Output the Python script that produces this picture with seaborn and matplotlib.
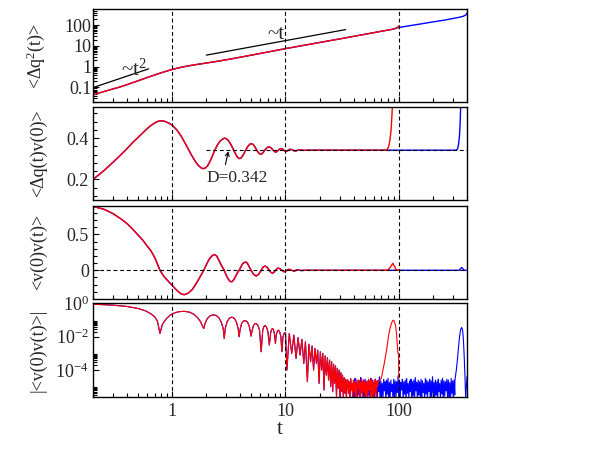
import numpy as np
import matplotlib
matplotlib.use("Agg")
import matplotlib.pyplot as plt
import seaborn as sns
from matplotlib.ticker import FixedLocator, FixedFormatter, NullFormatter

# ---------------- data ----------------
# panel 1 : <dq^2(t)>
msd_early = [(0.2, 0.044), (0.25, 0.064), (0.3, 0.085), (0.35, 0.108), (0.4, 0.138),
             (0.5, 0.21), (0.6, 0.3), (0.7, 0.4), (0.8, 0.51), (0.9, 0.62), (1.0, 0.74),
             (1.2, 0.94), (1.5, 1.18), (2.0, 1.5), (2.6, 1.88), (3.5, 2.5), (5.0, 3.6),
             (7.0, 5.1), (10.0, 7.4), (15.0, 11.0), (20.0, 14.6), (30.0, 21.6),
             (50.0, 36.0), (70.0, 50.5), (85.0, 61.0)]
msd_red_tail = [(90, 66), (95, 72), (98, 80), (100, 90)]
msd_blue_tail = [(90, 64.5), (100, 77), (150, 110), (200, 142), (250, 172), (300, 207),
                 (340, 237), (370, 265), (390, 305), (400, 380)]
guide_t2_t = [0.2, 0.62]
guide_t2_y = [0.099, 0.79]
guide_t1_t = [2.0, 34.0]
guide_t1_y = [3.6, 61.0]

# panel 2 : <dq(t)v(0)>
d_early = [(0.2, 0.2), (0.25, 0.243), (0.3, 0.283), (0.35, 0.318), (0.4, 0.35), (0.45, 0.38),
           (0.5, 0.404), (0.55, 0.426), (0.6, 0.446), (0.65, 0.462), (0.7, 0.474), (0.75, 0.482),
           (0.8, 0.485), (0.86, 0.482), (0.93, 0.474), (1.0, 0.463), (1.1, 0.44), (1.2, 0.41),
           (1.3, 0.376), (1.4, 0.343), (1.5, 0.313), (1.6, 0.287), (1.7, 0.268), (1.8, 0.256),
           (1.88, 0.252), (1.97, 0.256), (2.06, 0.267), (2.2, 0.298), (2.35, 0.336), (2.5, 0.366),
           (2.65, 0.386), (2.8, 0.397), (2.9, 0.4), (3.0, 0.398), (3.15, 0.387), (3.3, 0.369),
           (3.45, 0.348), (3.6, 0.327), (3.75, 0.309), (3.9, 0.301), (4.05, 0.304), (4.25, 0.32),
           (4.45, 0.342), (4.65, 0.36), (4.85, 0.371), (5.0, 0.374), (5.2, 0.369), (5.4, 0.356),
           (5.65, 0.337), (5.85, 0.326), (6.1, 0.322), (6.35, 0.33), (6.6, 0.344), (6.9, 0.355),
           (7.2, 0.358), (7.5, 0.352), (7.8, 0.341), (8.15, 0.332), (8.45, 0.336), (8.75, 0.345),
           (9.1, 0.35), (9.4, 0.348), (9.75, 0.34), (10.1, 0.336), (10.5, 0.34), (10.9, 0.346),
           (11.4, 0.345), (11.9, 0.339), (12.4, 0.338), (13.0, 0.344), (13.6, 0.343),
           (14.5, 0.341), (16.0, 0.342), (40.0, 0.342), (76.0, 0.342)]
d_red_tail = [(79, 0.345), (81.5, 0.36), (83.5, 0.39), (85.5, 0.44), (87, 0.51), (88.5, 0.6)]
d_blue_tail = [(100, 0.342), (322, 0.342), (330, 0.348), (337, 0.37), (343, 0.41),
               (348, 0.47), (352, 0.56)]
D_value = 0.342

# panel 3 : <v(0)v(t)>
c_early = [(0.2, 0.89), (0.25, 0.85), (0.3, 0.79), (0.35, 0.72), (0.4, 0.65), (0.45, 0.57),
           (0.5, 0.49), (0.55, 0.42), (0.6, 0.34), (0.65, 0.27), (0.7, 0.18), (0.74, 0.09),
           (0.78, 0.0), (0.85, -0.09), (0.92, -0.15), (1.0, -0.21), (1.1, -0.28), (1.2, -0.33),
           (1.28, -0.34), (1.38, -0.32), (1.5, -0.27), (1.62, -0.19), (1.75, -0.1), (1.9, 0.0),
           (2.02, 0.09), (2.13, 0.16), (2.24, 0.2), (2.35, 0.22), (2.47, 0.2), (2.6, 0.13),
           (2.74, 0.06), (2.88, 0.0), (3.0, -0.07), (3.12, -0.12), (3.24, -0.155), (3.37, -0.16),
           (3.5, -0.13), (3.64, -0.08), (3.78, -0.03), (3.9, 0.0), (4.05, 0.05), (4.2, 0.095),
           (4.35, 0.11), (4.45, 0.115), (4.6, 0.1), (4.78, 0.05), (4.97, 0.0), (5.22, -0.055),
           (5.5, -0.08), (5.8, -0.055), (6.1, 0.0), (6.35, 0.045), (6.6, 0.06), (6.9, 0.04),
           (7.2, 0.0), (7.45, -0.03), (7.7, -0.04), (7.95, -0.025), (8.15, 0.0), (8.45, 0.025),
           (8.7, 0.03), (9.0, 0.018), (9.3, 0.0), (9.55, -0.015), (9.8, -0.02), (10.05, -0.01),
           (10.3, 0.0), (10.8, 0.015), (11.35, 0.0), (11.85, -0.012), (12.4, 0.0), (12.9, 0.008),
           (13.45, 0.0), (13.95, -0.004), (14.5, 0.0), (20.0, 0.0), (40.0, 0.0), (76.0, 0.0)]
c_red_tail = [(80, 0.005), (84, 0.04), (88.5, 0.097), (92, 0.05), (95, 0.01), (98, 0.0), (100, 0.0)]
c_blue_tail = [(100, 0.0), (340, 0.0), (350, 0.018), (359, 0.038), (368, 0.02), (380, 0.0), (400, 0.0)]

# panel 4 : |<v(0)v(t)>| given as log10 values
logc_early = [(0.2, -0.04), (0.3, -0.1), (0.4, -0.18), (0.5, -0.3), (0.58, -0.44), (0.65, -0.62),
              (0.7, -0.8), (0.74, -1.05), (0.78, -1.8), (0.82, -1.25), (0.88, -0.95), (0.95, -0.72),
              (1.05, -0.56), (1.15, -0.49), (1.28, -0.47), (1.42, -0.52), (1.55, -0.64), (1.68, -0.86),
              (1.78, -1.1), (1.85, -1.35), (1.9, -1.5), (1.95, -1.2), (2.03, -0.93), (2.15, -0.75),
              (2.3, -0.68), (2.45, -0.72), (2.6, -0.88), (2.72, -1.15), (2.82, -1.5), (2.88, -2.1),
              (2.94, -1.5), (3.05, -1.1), (3.2, -0.88), (3.37, -0.82), (3.55, -0.9), (3.7, -1.15),
              (3.82, -1.5), (3.9, -2.0), (3.98, -1.55), (4.1, -1.2), (4.25, -1.06), (4.45, -1.03),
              (4.62, -1.12), (4.78, -1.35), (4.9, -1.7), (4.97, -1.96), (5.05, -1.7), (5.2, -1.35),
              (5.35, -1.22), (5.5, -1.2), (5.7, -1.3), (5.9, -1.6), (6.1, -2.9), (6.3, -1.6),
              (6.45, -1.38), (6.6, -1.32), (6.8, -1.42), (7.0, -1.7), (7.2, -2.5), (7.4, -1.75),
              (7.55, -1.55), (7.7, -1.5), (7.85, -1.6), (8.0, -1.85), (8.15, -2.4), (8.3, -1.85),
              (8.5, -1.65), (8.7, -1.6), (8.9, -1.72), (9.1, -2.0), (9.3, -2.9), (9.5, -2.0),
              (9.75, -1.78), (10.0, -1.76)]
logc_osc = [(10.3, -4.0), (10.8, -1.8), (11.35, -3.0), (11.85, -1.9), (12.4, -3.3), (12.9, -2.05),
            (13.45, -3.1), (13.95, -2.15), (14.5, -3.6), (15.0, -2.3), (15.6, -4.7), (16.1, -2.45),
            (16.65, -3.5), (17.15, -2.55), (17.7, -4.0), (18.2, -2.7), (18.75, -3.6), (19.25, -2.8),
            (19.8, -4.8), (20.3, -2.9), (20.85, -4.0), (21.35, -3.0), (21.9, -5.2), (22.4, -3.15),
            (22.95, -4.3), (23.45, -3.25), (24.0, -4.6), (24.5, -3.4), (25.05, -5.0), (25.55, -3.5),
            (26.1, -5.3), (26.6, -3.65), (27.15, -4.8), (27.65, -3.75), (28.2, -5.6), (28.7, -3.9),
            (29.25, -5.1), (29.75, -4.0), (30.3, -5.7), (30.8, -4.15), (31.35, -5.3), (31.85, -4.3),
            (32.4, -5.7), (32.9, -4.45), (33.45, -5.4), (33.95, -4.55), (34.5, -5.7), (35.0, -4.6)]
red_noise_hi = [-4.6, -4.7, -4.5, -4.8, -4.6, -4.7, -4.55, -4.8, -4.6, -4.7, -4.5,
                -4.65, -4.75, -4.6, -4.7, -4.55, -4.65, -4.5, -4.7, -4.6, -4.55, -4.65]
red_noise_lo = [-5.4, -5.8, -5.2, -5.9, -5.3, -5.6, -5.9, -5.1, -5.7, -5.4, -5.9,
                -5.3, -5.8, -5.5, -5.9, -5.2, -5.7, -5.6, -5.9, -5.4, -5.8, -5.0]
red_noise_span = (35.5, 65.0)
blue_noise_hi = [-4.6, -4.7, -4.55, -4.8, -4.65, -4.5, -4.75, -4.6, -4.7, -4.45,
                 -4.8, -4.6, -4.55, -4.7, -4.65, -4.9, -4.5, -4.6, -4.75, -4.55,
                 -4.7, -4.6, -4.4, -4.65, -4.8, -4.55, -4.7, -4.6, -4.5, -4.75,
                 -4.6, -4.85, -4.55, -4.65, -4.7, -4.35, -4.6, -4.75, -4.55, -4.7,
                 -4.6, -4.5, -4.8, -4.65, -4.55, -4.7, -4.6, -4.45, -4.75, -4.6,
                 -4.7, -4.55, -4.65, -4.8, -4.5, -4.6, -4.7, -4.55, -4.65, -4.4,
                 -4.75, -4.6, -4.7, -4.55, -4.8, -4.6, -4.5, -4.65, -4.7, -4.55,
                 -4.6, -4.75, -4.5, -4.65, -4.6]
blue_noise_lo = [-5.4, -5.9, -5.2, -5.7, -6.0, -5.3, -5.8, -5.5, -6.0, -5.25,
                 -5.6, -5.9, -5.35, -5.75, -5.5, -6.0, -5.2, -5.65, -5.9, -5.4,
                 -5.8, -5.3, -6.0, -5.55, -5.7, -5.25, -5.95, -5.45, -5.8, -5.6,
                 -5.3, -6.0, -5.5, -5.7, -5.35, -5.9, -5.6, -5.2, -5.85, -5.45,
                 -6.0, -5.4, -5.7, -5.3, -5.95, -5.55, -5.75, -5.25, -5.9, -5.5,
                 -5.65, -6.0, -5.35, -5.8, -5.45, -5.7, -5.3, -5.95, -5.6, -5.4,
                 -5.85, -5.5, -6.0, -5.3, -5.7, -5.45, -5.9, -5.55, -5.25, -5.8,
                 -5.6, -6.0, -5.4, -5.75, -5.5]
blue_noise_span = (35.5, 312.0)
logc_red_tail = [(66, -4.7), (70, -4.5), (74, -3.7), (78, -2.8), (81, -2.0), (83, -1.6), (86, -1.2),
                 (88.8, -1.0), (91, -1.05), (93.5, -1.3), (95.5, -1.8), (97, -2.5), (98.5, -3.0),
                 (99.5, -3.0), (100, -4.5)]
logc_blue_tail = [(313, -4.6), (322, -4.0), (330, -3.3), (338, -2.5), (345, -1.9), (352, -1.55),
                  (359, -1.44), (366, -1.6), (372, -2.2), (378, -3.2), (384, -4.4), (389, -5.7),
                  (395, -5.0), (400, -4.4)]

RED = "#ff0000"
BLUE = "#0000ff"

# ---------------- style ----------------
sns.set_style("ticks")
plt.rcParams.update({
    "font.family": ["Liberation Serif", "DejaVu Serif"],
    "mathtext.fontset": "custom",
    "mathtext.rm": "Liberation Serif",
    "mathtext.it": "Liberation Serif:italic",
    "mathtext.bf": "Liberation Serif:bold",
    "axes.unicode_minus": True,
    "axes.linewidth": 1.0,
    "axes.edgecolor": "black",
})


def split(pairs):
    t, v = zip(*pairs)
    return np.array(t, float), np.array(v, float)


def draw(ax, pairs, color, lw=1.0, z=2):
    t, v = split(pairs)
    sns.lineplot(x=t, y=v, ax=ax, color=color, lw=lw, estimator=None, sort=False, zorder=z)


def interleave(hi, lo):
    return np.column_stack([hi, lo]).ravel()


fig = plt.figure(figsize=(6.05, 4.68), dpi=100)
L, W = 93 / 605, 374 / 605
rects = [(L, 0.7810, W, 0.1991), (L, 0.5726, W, 0.1981),
         (L, 0.3611, W, 0.1994), (L, 0.1517, W, 0.1998)]
axes = [fig.add_axes(r) for r in rects]
ax1, ax2, ax3, ax4 = axes

# panel 1
draw(ax1, msd_early + msd_blue_tail, BLUE)
draw(ax1, msd_early + msd_red_tail, RED)
sns.lineplot(x=guide_t2_t, y=guide_t2_y, ax=ax1, color="black", lw=0.9, estimator=None)
sns.lineplot(x=guide_t1_t, y=guide_t1_y, ax=ax1, color="black", lw=0.9, estimator=None)
ax1.set_yscale("log")
ax1.set_ylim(0.019, 575)
ax1.text(0.46, 0.66, "~t$^2$", fontsize=15, ha="center", va="center")
ax1.text(8.3, 36.0, "~t", fontsize=15, ha="center", va="center")

# panel 2
draw(ax2, d_early + d_blue_tail, BLUE)
draw(ax2, d_early + d_red_tail, RED)
ax2.hlines(D_value, 2.0, 400, colors="black", lw=0.8, linestyles=(0, (3.5, 2.5)), zorder=3)
ax2.set_ylim(0.1, 0.55)
ax2.annotate("", xy=(3.13, 0.337), xytext=(2.95, 0.272),
             arrowprops=dict(arrowstyle="->", lw=0.8, color="black", shrinkA=0, shrinkB=0,
                             mutation_scale=7))
ax2.text(3.72, 0.207, "D=0.342", fontsize=12.5, ha="center", va="center")

# panel 3
draw(ax3, c_early + c_blue_tail, BLUE)
draw(ax3, c_early + c_red_tail, RED)
ax3.axhline(0.0, color="black", lw=0.8, ls=(0, (3.5, 2.5)), zorder=3)
ax3.set_ylim(-0.4, 0.9)

# panel 4
tb = np.geomspace(*blue_noise_span, 2 * len(blue_noise_hi))
tr = np.geomspace(*red_noise_span, 2 * len(red_noise_hi))
te, ve = split(logc_early + logc_osc)
tbt, vbt = split(logc_blue_tail)
trt, vrt = split(logc_red_tail)
blue_t = np.concatenate([te, tb, tbt])
blue_v = np.concatenate([ve, interleave(blue_noise_hi, blue_noise_lo), vbt])
red_t = np.concatenate([te, tr, trt])
red_v = np.concatenate([ve, interleave(red_noise_hi, red_noise_lo), vrt])
sns.lineplot(x=blue_t, y=10.0 ** blue_v, ax=ax4, color=BLUE, lw=0.8, estimator=None, sort=False)
sns.lineplot(x=red_t, y=10.0 ** red_v, ax=ax4, color=RED, lw=0.8, estimator=None, sort=False)
ax4.set_yscale("log")
ax4.set_ylim(2.4e-6, 1.0)

# common x axis & decorations
xminor = [k * 10.0 ** e for e in (-1, 0, 1, 2) for k in range(2, 10) if 0.2 <= k * 10.0 ** e <= 400]
for i, ax in enumerate(axes):
    ax.set_xscale("log")
    ax.set_xlim(0.2, 400)
    for xv in (1, 10, 100):
        ax.axvline(xv, color="black", lw=0.8, ls=(0, (3.5, 2.5)), zorder=3)
    ax.xaxis.set_major_locator(FixedLocator([1, 10, 100]))
    ax.xaxis.set_minor_locator(FixedLocator(xminor))
    ax.xaxis.set_minor_formatter(NullFormatter())
    if i < 3:
        ax.xaxis.set_major_formatter(NullFormatter())
    else:
        ax.xaxis.set_major_formatter(FixedFormatter(["1", "10", "100"]))
    ax.tick_params(which="both", direction="in", top=False, right=False,
                   labelsize=13, width=0.8, color="black")
    ax.tick_params(which="major", length=4.5)
    ax.tick_params(which="minor", length=2.8)
    ax.tick_params(axis="y", pad=3)
    ax.tick_params(axis="x", pad=4)
    for s in ax.spines.values():
        s.set_visible(True)
        s.set_linewidth(1.0)
    ax.set_xlabel("")

# y ticks
ax1.yaxis.set_major_locator(FixedLocator([0.1, 1, 10, 100]))
ax1.yaxis.set_major_formatter(FixedFormatter(["0.1", "1", "10", "100"]))
ax1.yaxis.set_minor_locator(FixedLocator([k * 10.0 ** e for e in (-2, -1, 0, 1, 2) for k in range(2, 10)]))
ax1.yaxis.set_minor_formatter(NullFormatter())
ax1.tick_params(axis="y", pad=1)

ax2.yaxis.set_major_locator(FixedLocator([0.2, 0.4]))
ax2.yaxis.set_major_formatter(FixedFormatter(["0.2", "0.4"]))
ax2.yaxis.set_minor_locator(FixedLocator([0.12, 0.16, 0.24, 0.28, 0.32, 0.36, 0.44, 0.48, 0.52]))
ax2.yaxis.set_minor_formatter(NullFormatter())

ax3.yaxis.set_major_locator(FixedLocator([0.0, 0.5]))
ax3.yaxis.set_major_formatter(FixedFormatter(["0", "0.5"]))
ax3.yaxis.set_minor_locator(FixedLocator([-0.3, -0.2, -0.1, 0.1, 0.2, 0.3, 0.4, 0.6, 0.7, 0.8]))
ax3.yaxis.set_minor_formatter(NullFormatter())

ax4.yaxis.set_major_locator(FixedLocator([1e-4, 1e-2, 1.0]))
ax4.yaxis.set_major_formatter(FixedFormatter([r"$10^{-4}$", r"$10^{-2}$", r"$10^{0}$"]))
ax4.yaxis.set_minor_locator(FixedLocator([k * 10.0 ** e for e in (-6, -4, -2) for k in range(2, 10)]))
ax4.yaxis.set_minor_formatter(NullFormatter())

ylabels = ["<Δq$^2$(t)>", "<Δq(t)v(0)>", "<v(0)v(t)>", "|<v(0)v(t)>|"]
for ax, lab in zip(axes, ylabels):
    ax.set_ylabel(lab, fontsize=13)
    ax.yaxis.set_label_coords(-0.123, 0.5)

ax4.set_xlabel("t", fontsize=16, labelpad=0)

fig.savefig("out.png", dpi=100)
